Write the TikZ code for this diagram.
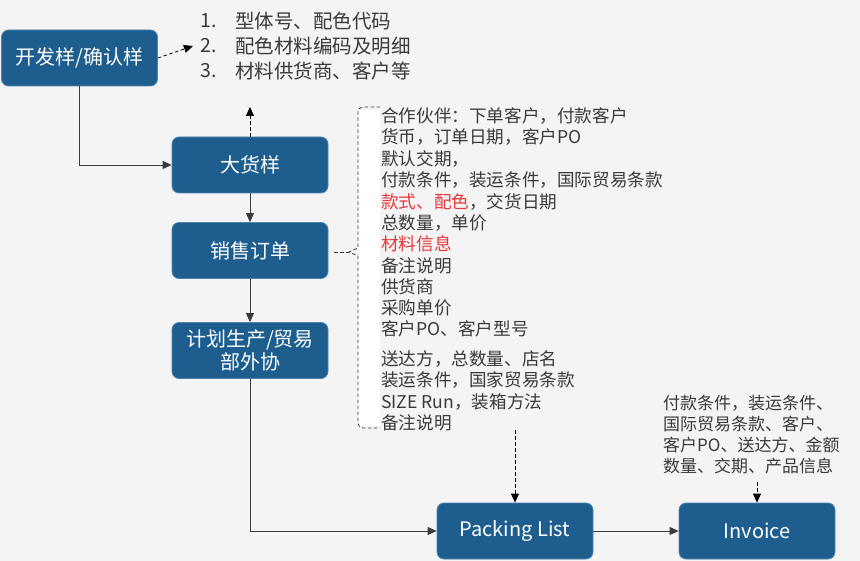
\documentclass[tikz,border=0pt]{standalone}
\usepackage{fontspec}
\newfontfamily\cjk{Noto Sans CJK SC}
\usetikzlibrary{arrows.meta,positioning}
\definecolor{bg}{HTML}{F4F4F4}
\definecolor{boxblue}{HTML}{1D5E8F}
\definecolor{boxborder}{HTML}{4E86B0}
\definecolor{txt}{HTML}{3A3A3A}
\definecolor{redtxt}{HTML}{E8383A}
\tikzset{
  procbox/.style={draw=boxborder, fill=boxblue, rounded corners=7pt, line width=0.8pt,
    minimum width=156pt, minimum height=56pt, text=white, align=center, inner sep=0pt,
    font=\cjk\fontsize{20}{23.5}\selectfont},
  infoline/.style={anchor=west, inner sep=0pt, text=txt, font=\cjk\fontsize{17.6}{21}\selectfont},
  listline/.style={anchor=west, inner sep=0pt, text=txt, font=\cjk\fontsize{19.5}{24}\selectfont},
  flow/.style={draw=txt, line width=0.8pt, -{Triangle[width=8pt,length=9pt]}},
  dflow/.style={draw=txt, line width=0.8pt, dashed, dash pattern=on 3.5pt off 2.5pt, -{Triangle[width=8pt,length=9pt]}, black},
  dline/.style={draw=txt, line width=0.8pt, dash pattern=on 3.5pt off 2.5pt}
}
\begin{document}
\begin{tikzpicture}[x=1pt,y=-1pt]
\fill[bg] (0,0) rectangle (860,561);
\useasboundingbox (0,0) rectangle (860,561);

% boxes
\node[procbox] (dev) at (79.5,58) {开发样/确认样};
\node[procbox] (bulk) at (250,165) {大货样};
\node[procbox] (so) at (250,250.5) {销售订单};
\node[procbox] (plan) at (250,350.5) {计划生产/贸易\\部外协};
\node[procbox] (pl) at (515,531) {Packing List};
\node[procbox] (inv) at (757,531) {Invoice};

% numbered list
\node[listline] (n1) at (200,21) {1.};
\node[listline] (n2) at (200,46) {2.};
\node[listline] (n3) at (200,71) {3.};
\node[listline] (l1) at (235,21) {型体号、配色代码};
\node[listline] (l2) at (235,46) {配色材料编码及明细};
\node[listline] (l3) at (235,71) {材料供货商、客户等};

% brace (white strip + dashed outline)
\fill[white] (358,110) -- (380,110) -- (380,426) -- (358,426) -- cycle;
\coordinate (btip) at (349,252);
\draw[dline] (380,107) -- (363,107) to[out=180,in=90] (358,112) -- (358,248) -- (btip) -- (358,256) -- (358,423) to[out=-90,in=180] (363,428) -- (380,428);

% order info text
\node[infoline] (t1) at (381,116) {合作伙伴：下单客户，付款客户};
\node[infoline] (t2) at (381,137) {货币，订单日期，客户PO};
\node[infoline] (t3) at (381,158.5) {默认交期，};
\node[infoline] (t4) at (381,180) {付款条件，装运条件，国际贸易条款};
\node[infoline] (t5) at (381,201.5) {\textcolor{redtxt}{款式、配色}，交货日期};
\node[infoline] (t6) at (381,223) {总数量，单价};
\node[infoline] (t7) at (381,244) {\textcolor{redtxt}{材料信息}};
\node[infoline] (t8) at (381,265.5) {备注说明};
\node[infoline] (t9) at (381,286.5) {供货商};
\node[infoline] (t10) at (381,307.5) {采购单价};
\node[infoline] (t11) at (381,328.5) {客户PO、客户型号};
\node[infoline] (t12) at (381,359) {送达方，总数量、店名};
\node[infoline] (t13) at (381,380) {装运条件，国家贸易条款};
\node[infoline] (t14) at (381,401.5) {SIZE Run，装箱方法};
\node[infoline] (t15) at (381,422.5) {备注说明};

% invoice info text
\node[infoline, font=\cjk\fontsize{17}{21}\selectfont] (i1) at (663,403) {付款条件，装运条件、};
\node[infoline, font=\cjk\fontsize{17}{21}\selectfont] (i2) at (663,424) {国际贸易条款、客户、};
\node[infoline, font=\cjk\fontsize{17}{21}\selectfont] (i3) at (663,445) {客户PO、送达方、金额};
\node[infoline, font=\cjk\fontsize{17}{21}\selectfont] (i4) at (663,466) {数量、交期、产品信息};

\coordinate (listarrow) at (193,46);
\coordinate (uparrow) at (250,107);
\coordinate (plsrc) at (515,430);
\coordinate (invsrc) at (757,482);

% solid flows
\draw[flow] (dev.south) |- (bulk.west);
\draw[flow] (bulk.south) -- (so.north);
\draw[flow] (so.south) -- (plan.north);
\draw[flow] (plan.south) |- (pl.west);
\draw[flow] (pl.east) -- (inv.west);

% dashed flows
\draw[dflow] (dev.east) -- (listarrow);
\draw[dflow] (bulk.north) -- (uparrow);
\draw[dline] (so.east |- btip) ++(6,0) -- (btip);
\draw[dflow] (plsrc) -- (pl.north);
\draw[dflow] (invsrc) -- (inv.north);
\end{tikzpicture}
\end{document}
